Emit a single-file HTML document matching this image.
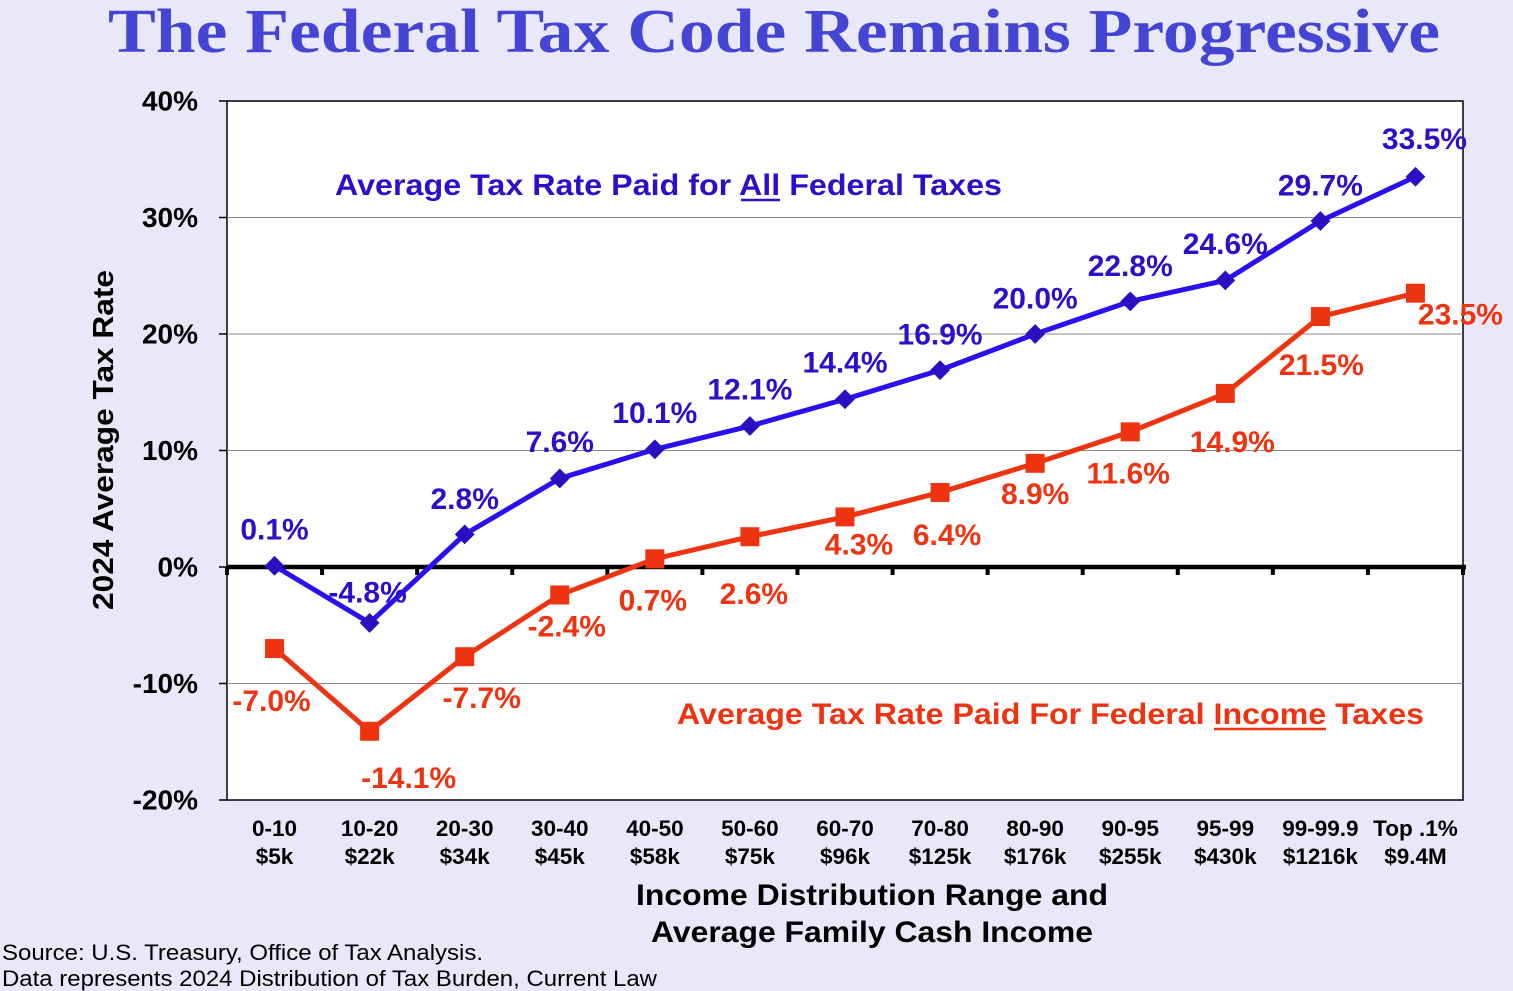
<!DOCTYPE html>
<html><head><meta charset="utf-8"><style>
html,body{margin:0;padding:0;background:#E8E8F8;width:1513px;height:991px;overflow:hidden}
svg text{font-family:"Liberation Sans",Arial,sans-serif;font-weight:bold}
</style></head><body>
<svg id="chart" width="1513" height="991">
<text x="108" y="52" textLength="1332" lengthAdjust="spacingAndGlyphs" style="font-family:'Liberation Serif',serif" font-size="62" fill="#4545D5">The Federal Tax Code Remains Progressive</text>
<rect x="227" y="101" width="1236" height="699" fill="#fff" stroke="#000" stroke-width="1.5"/>
<g id="grid"></g><g id="axes"></g><g id="series"></g><g id="labels"></g>
<text transform="translate(113,440) rotate(-90)" text-anchor="middle" font-size="29" textLength="340" lengthAdjust="spacingAndGlyphs" fill="#000">2024 Average Tax Rate</text>
<text x="636" y="905" textLength="472" lengthAdjust="spacingAndGlyphs" font-size="30" fill="#000">Income Distribution Range and</text>
<text x="651" y="942" textLength="442" lengthAdjust="spacingAndGlyphs" font-size="30" fill="#000">Average Family Cash Income</text>
<text x="335" y="195" textLength="667" lengthAdjust="spacingAndGlyphs" font-size="30" fill="#2A10C8">Average Tax Rate Paid for All Federal Taxes</text>
<line x1="741" y1="200" x2="780" y2="200" stroke="#2A10C8" stroke-width="2.5"/>
<text x="677" y="724" textLength="747" lengthAdjust="spacingAndGlyphs" font-size="30" fill="#EE3310">Average Tax Rate Paid For Federal Income Taxes</text>
<line x1="1214" y1="729" x2="1326" y2="729" stroke="#EE3310" stroke-width="2.5"/>
<text x="2" y="960" textLength="481" lengthAdjust="spacingAndGlyphs" font-size="22" style="font-weight:normal" fill="#000">Source: U.S. Treasury, Office of Tax Analysis.</text>
<text x="2" y="986" textLength="655" lengthAdjust="spacingAndGlyphs" font-size="22" style="font-weight:normal" fill="#000">Data represents 2024 Distribution of Tax Burden, Current Law</text>
</svg>
<script>
const categories=["0-10","10-20","20-30","30-40","40-50","50-60","60-70","70-80","80-90","90-95","95-99","99-99.9","Top .1%"];
const incomes=["$5k","$22k","$34k","$45k","$58k","$75k","$96k","$125k","$176k","$255k","$430k","$1216k","$9.4M"];
const allTaxes=[0.1,-4.8,2.8,7.6,10.1,12.1,14.4,16.9,20.0,22.8,24.6,29.7,33.5];
const incomeTaxes=[-7.0,-14.1,-7.7,-2.4,0.7,2.6,4.3,6.4,8.9,11.6,14.9,21.5,23.5];
const yTicks=[40,30,20,10,0,-10,-20];
const blueOff=[[0,-36],[-2,-30],[0,-35],[0,-36],[0,-36],[0,-36],[0,-36],[0,-35],[0,-35],[0,-35],[0,-36],[0,-35],[9,-37]];
const redOff=[[-3,53],[39,47],[17,42],[7,32],[-2,42],[4,58],[14,28],[7,43],[0,31],[-2,42],[7,49],[1,49],[45,22]];
const NS="http://www.w3.org/2000/svg";
const L=227,R=1463,T=101,B=800,cw=(R-L)/categories.length;
const x=i=>L+cw*(i+0.5);
const y=v=>T+(40-v)/60*(B-T);
function mk(tag,attrs,parent){const e=document.createElementNS(NS,tag);for(const k in attrs)e.setAttribute(k,attrs[k]);document.getElementById(parent).appendChild(e);return e;}
yTicks.forEach(t=>{
 if(t!==40&&t!==-20&&t!==0){const g=mk('line',{x1:L,x2:R,y1:y(t),y2:y(t),stroke:'#888','stroke-width':1},'grid');
 
 }
 const tx=mk('text',{x:198,y:y(t),'text-anchor':'end','dominant-baseline':'central','font-size':28,fill:'#000'},'axes');
 tx.textContent=t+'%';
 
 
 const tk=mk('line',{x1:L-8,x2:L,y1:y(t),y2:y(t),stroke:'#000','stroke-width':1.5},'axes');
 
 
});
const z=mk('line',{x1:L,x2:R+3,y1:y(0),y2:y(0),stroke:'#000','stroke-width':4.5},'axes');


for(let i=0;i<=categories.length;i++){const t=mk('line',{x1:L+cw*i,x2:L+cw*i,y1:y(0),y2:y(0)+8,stroke:'#000','stroke-width':4},'axes');
 
 }
categories.forEach((c,i)=>{
 const t1=mk('text',{x:x(i),y:836,'text-anchor':'middle','font-size':22.5,fill:'#000'},'axes');t1.textContent=c;
 
 
 const t2=mk('text',{x:x(i),y:864,'text-anchor':'middle','font-size':22.5,fill:'#000'},'axes');t2.textContent=incomes[i];
 
 
});
const rp=mk('polyline',{points:incomeTaxes.map((v,i)=>x(i)+','+y(v)).join(' '),fill:'none',stroke:'#EE3310','stroke-width':5},'series');


const bp=mk('polyline',{points:allTaxes.map((v,i)=>x(i)+','+y(v)).join(' '),fill:'none',stroke:'#2A10F0','stroke-width':5},'series');


incomeTaxes.forEach((v,i)=>{
 const m=mk('rect',{x:x(i)-9.5,y:y(v)-9.5,width:19,height:19,fill:'#EE3310'},'series');
 
 
 const t=mk('text',{x:x(i)+redOff[i][0],y:y(v)+redOff[i][1],'text-anchor':'middle','dominant-baseline':'central','font-size':30,fill:'#EE3310'},'labels');
 t.textContent=v.toFixed(1)+'%';
 
 
});
allTaxes.forEach((v,i)=>{
 const m=mk('rect',{x:x(i)-7,y:y(v)-7,width:14,height:14,fill:'#2A10C0',transform:`rotate(45 ${x(i)} ${y(v)})`},'series');
 
 
 const t=mk('text',{x:x(i)+blueOff[i][0],y:y(v)+blueOff[i][1],'text-anchor':'middle','dominant-baseline':'central','font-size':30,fill:'#2A10C8'},'labels');
 t.textContent=v.toFixed(1)+'%';
 
 
});
</script>
</body></html>
